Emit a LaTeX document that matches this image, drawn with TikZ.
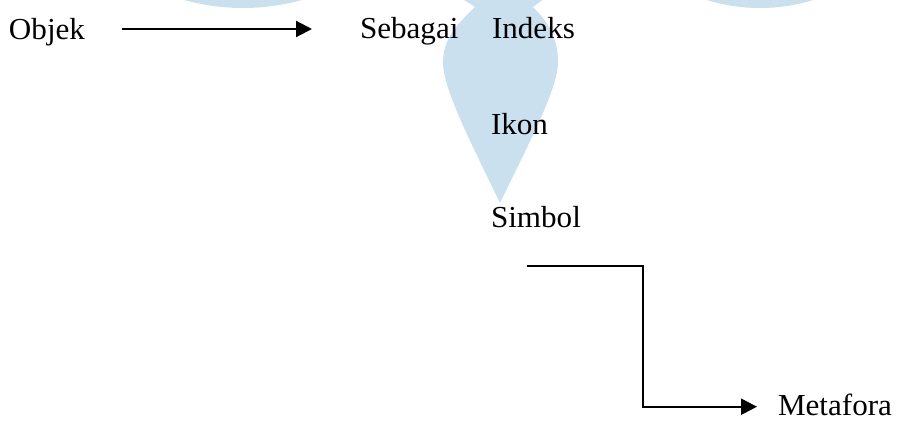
\documentclass[tikz,border=0pt]{standalone}
\usepackage{fontspec}
\setmainfont{Liberation Serif}
\usetikzlibrary{arrows.meta}
\definecolor{wm}{RGB}{202,224,238}
\begin{document}
\begin{tikzpicture}[x=1pt,y=-1pt,
  lbl/.style={anchor=base west,inner sep=0pt,outer sep=0pt,xscale=1.02,
    font=\fontsize{30.5}{36}\selectfont},
  conn/.style={line width=2.1pt,-{Triangle[length=16pt,width=16pt]}}]
\useasboundingbox (0,0) rectangle (898,421);
\begin{scope}
  \clip (0,0) rectangle (898,421);
  \fill[wm] (243,-212) circle[radius=220pt];
  \fill[wm] (760,-172) circle[radius=180pt];
  \fill[wm] (500,203) .. controls (468,137) and (443,88) .. (443,62)
    .. controls (443,36) and (462,20) .. (475,7) -- (461,-2) -- (545,-2) -- (533,7)
    .. controls (546,20) and (558,36) .. (558,62)
    .. controls (558,88) and (532,137) .. (500,203) -- cycle;
\end{scope}
\node[lbl] (objek) at (9,39) {Objek};
\node[lbl] (sebagai) at (360,38.3) {Sebagai};
\node[lbl] (indeks) at (492,38.3) {Indeks};
\node[lbl] (ikon) at (491,134.3) {Ikon};
\node[lbl] (simbol) at (491,227.3) {Simbol};
\node[lbl,text depth=0pt] (metafora) at (778,415.5) {Metafora};
\coordinate (a0) at (122,29);
\coordinate (a1) at (312,29);
\draw[conn] (a0) -- (a1);
\coordinate (b0) at (527,265.7);
\coordinate (bend) at (642.7,336);
\coordinate (b1) at (757,406.7);
\draw[conn] (b0) -| (bend) |- (b1);
\end{tikzpicture}
\end{document}
